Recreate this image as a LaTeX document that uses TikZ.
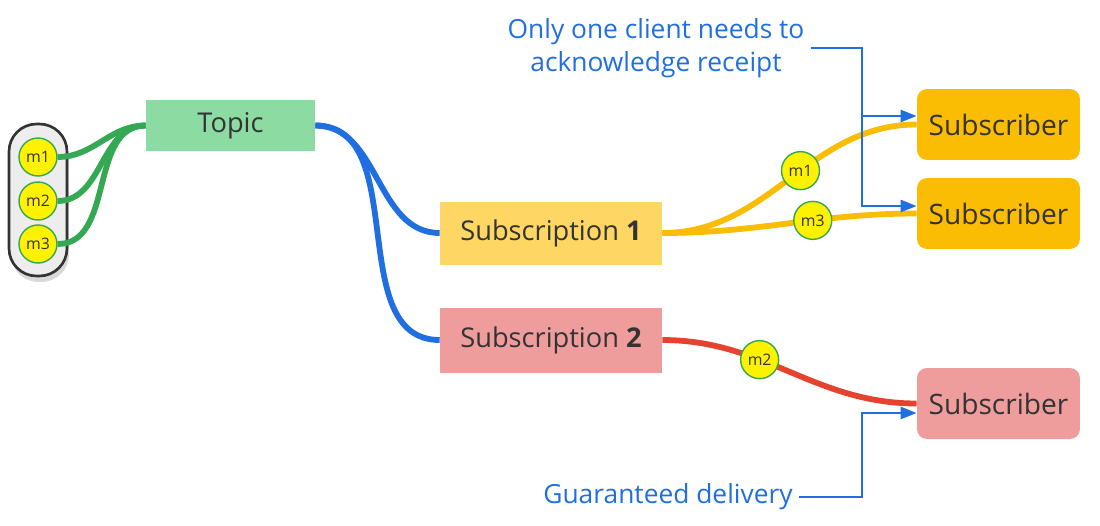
\documentclass[tikz,border=0pt]{standalone}
\usepackage{fontspec}
\setmainfont{Open Sans}
\usetikzlibrary{arrows.meta,shadows}

\definecolor{topicgreen}{HTML}{8CDBA2}
\definecolor{linegreen}{HTML}{34A853}
\definecolor{lineblue}{HTML}{1F6FE0}
\definecolor{subyellow}{HTML}{FDD663}
\definecolor{subred}{HTML}{EE9C9C}
\definecolor{amber}{HTML}{FBBC04}
\definecolor{linered}{HTML}{E5432F}
\definecolor{textgray}{HTML}{333333}

\tikzset{
  boxtext/.style={text=textgray, font=\fontsize{15.5}{18}\selectfont},
  msg/.style={circle, draw=linegreen, line width=0.8pt, fill=yellow, text=textgray, minimum size=0.76cm, inner sep=0pt, font=\fontsize{9}{10}\selectfont},
  wire/.style={line width=3.3pt},
  note/.style={draw=lineblue, line width=1.4pt, -{Triangle[length=0.32cm,width=0.24cm]}},
  notetext/.style={text=lineblue, font=\fontsize{15}{19}\selectfont, align=center}
}

\begin{document}
\begin{tikzpicture}[x=0.02cm,y=-0.02cm]

\useasboundingbox (0,0) rectangle (1100,525);

\node[draw=textgray, line width=1.5pt, fill=black!7, rounded corners=0.55cm, minimum width=1.16cm, minimum height=3.04cm, drop shadow={shadow xshift=0.4mm, shadow yshift=-1.2mm, opacity=0.3}] (tray) at (38,200) {};
\node[msg] (m1) at (38,157) {m1};
\node[msg] (m2) at (38,201) {m2};
\node[msg] (m3) at (38,244) {m3};

\node[boxtext, fill=topicgreen, minimum width=3.38cm, minimum height=1.02cm] (topic) at (230.5,125.5) {Topic};

\node[boxtext, fill=subyellow, minimum width=4.44cm, minimum height=1.26cm] (sub1) at (551,233) {Subscription \textbf{1}};
\node[boxtext, fill=subred, minimum width=4.44cm, minimum height=1.3cm] (sub2) at (551,340) {Subscription \textbf{2}};

\node[boxtext, fill=amber, rounded corners=0.2cm, minimum width=3.26cm, minimum height=1.42cm, font=\fontsize{16}{18}\selectfont] (rcv1) at (998.5,124.5) {Subscriber};
\node[boxtext, fill=amber, rounded corners=0.2cm, minimum width=3.26cm, minimum height=1.42cm, font=\fontsize{16}{18}\selectfont] (rcv2) at (998.5,213.5) {Subscriber};
\node[boxtext, fill=subred, rounded corners=0.2cm, minimum width=3.26cm, minimum height=1.42cm, font=\fontsize{16}{18}\selectfont] (rcv3) at (998.5,403.5) {Subscriber};

\draw[wire, linegreen] (m1.east) to[out=0,in=180] (topic.west);
\draw[wire, linegreen] (m2.east) to[out=0,in=180] (topic.west);
\draw[wire, linegreen] (m3.east) to[out=0,in=180] (topic.west);

\draw[wire, lineblue] (topic.east) to[out=0,in=180] (sub1.west);
\draw[wire, lineblue] (topic.east) to[out=0,in=180] (sub2.west);

\draw[wire, amber] (sub1.east) to[out=0,in=180] node[msg, pos=0.55] (p1) {m1} (rcv1.west);
\draw[wire, amber] (sub1.east) to[out=0,in=180] node[msg, pos=0.6] (p3) {m3} (rcv2.west);
\draw[wire, linered] (sub2.east) to[out=0,in=180] node[msg, pos=0.37] (p2) {m2} (rcv3.west);

\node[notetext] (note1) at (656,48) {Only one client needs to\\acknowledge receipt};
\node[notetext] (note2) at (668,497) {Guaranteed delivery};

\draw[note] (note1.east) -- (862,48) -- (862,206) -- (rcv2.west |- 0,206);
\draw[note] (862,116) -- (rcv1.west |- 0,116);
\draw[note] (note2.east) -- (862,497) -- (862,413) -- (rcv3.west |- 0,413);

\end{tikzpicture}
\end{document}
